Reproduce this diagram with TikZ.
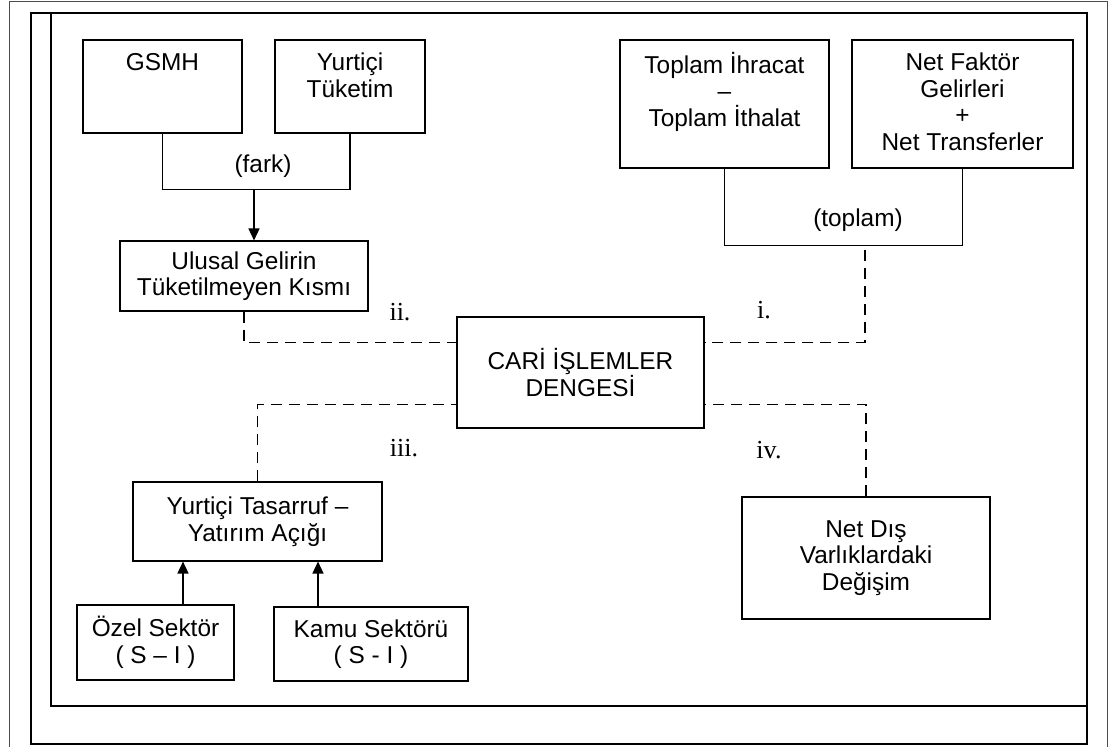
\documentclass[tikz,border=0pt]{standalone}
\usepackage{fontspec}
\setmainfont{Liberation Sans}
\newfontfamily\lblfont{Liberation Serif}
\usetikzlibrary{arrows.meta,calc}
\newcommand\fsz{\fontsize{24.4}{26.5}\selectfont}
\begin{document}
\begin{tikzpicture}[x=1pt,y=-1pt,
  box/.style={draw, line width=1.1pt, inner sep=0pt, align=center, font=\fsz},
  toptxt/.style={anchor=north, inner sep=0pt, align=center, font=\fsz},
  txt/.style={inner sep=0pt, font=\fsz},
  lbl/.style={inner sep=0pt, font=\lblfont\fontsize{26}{28}\selectfont},
  conn/.style={line width=1.1pt},
  arr/.style={line width=1.5pt, -{Triangle[width=11pt,length=12pt]}},
  dsh/.style={line width=1.2pt, dash pattern=on 11pt off 7pt}]
\useasboundingbox (0,0) rectangle (1109,747);
% frames
\draw[black!70, line width=1pt] (9,747) -- (9,1) -- (1107,1) -- (1107,747);
\draw[line width=2.2pt] (31,13) rectangle (1087,744);
\draw[line width=1.4pt] (51,13) -- (51,706) -- (1087,706);
% top-left group
\node[box, minimum width=159pt, minimum height=93pt] (gsmh) at (162.5,86.5) {};
\node[toptxt] (gsmhT) at ([yshift=-12.5pt]gsmh.north) {\strut GSMH};
\node[box, minimum width=150pt, minimum height=93pt] (ytuk) at (350,86.5) {};
\node[toptxt] (ytukT) at ([yshift=-12.5pt]ytuk.north) {\strut Yurtiçi\\Tüketim};
\draw[conn] (gsmh.south) -- ++(0,56) -| (ytuk.south);
\node[txt] (fark) at (263,166) {(fark)};
\coordinate (farkb) at (254,189);
\node[box, minimum width=248pt, minimum height=70pt] (ulusal) at (244,276) {Ulusal Gelirin\\Tüketilmeyen Kısmı};
\draw[arr] (farkb) -- (farkb |- ulusal.north);
% top-right group
\node[box, minimum width=209pt, minimum height=128pt] (ihr) at (724.5,104) {};
\node[toptxt] (ihrT) at ([yshift=-12.5pt]ihr.north) {\strut Toplam İhracat\\–\\Toplam İthalat};
\node[box, minimum width=221pt, minimum height=128pt] (nfg) at (962.5,104) {};
\node[toptxt] (nfgT) at ([yshift=-12.5pt]nfg.north) {\strut Net Faktör\\Gelirleri\\+\\Net Transferler};
\draw[conn] (ihr.south) -- ++(0,77) -| (nfg.south);
\node[txt] (toplam) at (858,220) {(toplam)};
\coordinate (tpb) at (865,250);
% centre
\node[box, minimum width=247pt, minimum height=111pt] (cari) at (580.5,372.5) {CARİ İŞLEMLER\\DENGESİ};
\coordinate (cL1) at ($(cari.north west)+(0,26)$);
\coordinate (cR1) at ($(cari.north east)+(0,26)$);
\coordinate (cL2) at ($(cari.south west)+(0,-24)$);
\coordinate (cR2) at ($(cari.south east)+(0,-24)$);
\draw[dsh] (ulusal.south) |- (cL1);
\draw[dsh] (tpb) |- (cR1);
% bottom-left group
\node[box, minimum width=249pt, minimum height=79pt] (ytas) at (257.5,521.5) {Yurtiçi Tasarruf –\\Yatırım Açığı};
\draw[dsh] (ytas.north) |- (cL2);
\node[box, minimum width=157pt, minimum height=75pt] (ozel) at (155.5,642.5) {Özel Sektör\\( S – I )};
\node[box, minimum width=194pt, minimum height=74pt] (kamu) at (371,644) {Kamu Sektörü\\( S - I )};
\coordinate (a1) at (183,605);
\coordinate (a2) at (318,607);
\draw[arr] (a1) -- (a1 |- ytas.south);
\draw[arr] (a2) -- (a2 |- ytas.south);
% bottom-right
\node[box, minimum width=248pt, minimum height=122pt] (netdis) at (866,558) {Net Dış\\Varlıklardaki\\Değişim};
\draw[dsh] (netdis.north) |- (cR2);
% labels
\node[lbl] (li) at (764,310) {i.};
\node[lbl] (lii) at (400,312) {ii.};
\node[lbl] (liii) at (404,448) {iii.};
\node[lbl] (liv) at (769,450) {iv.};
\end{tikzpicture}
\end{document}
